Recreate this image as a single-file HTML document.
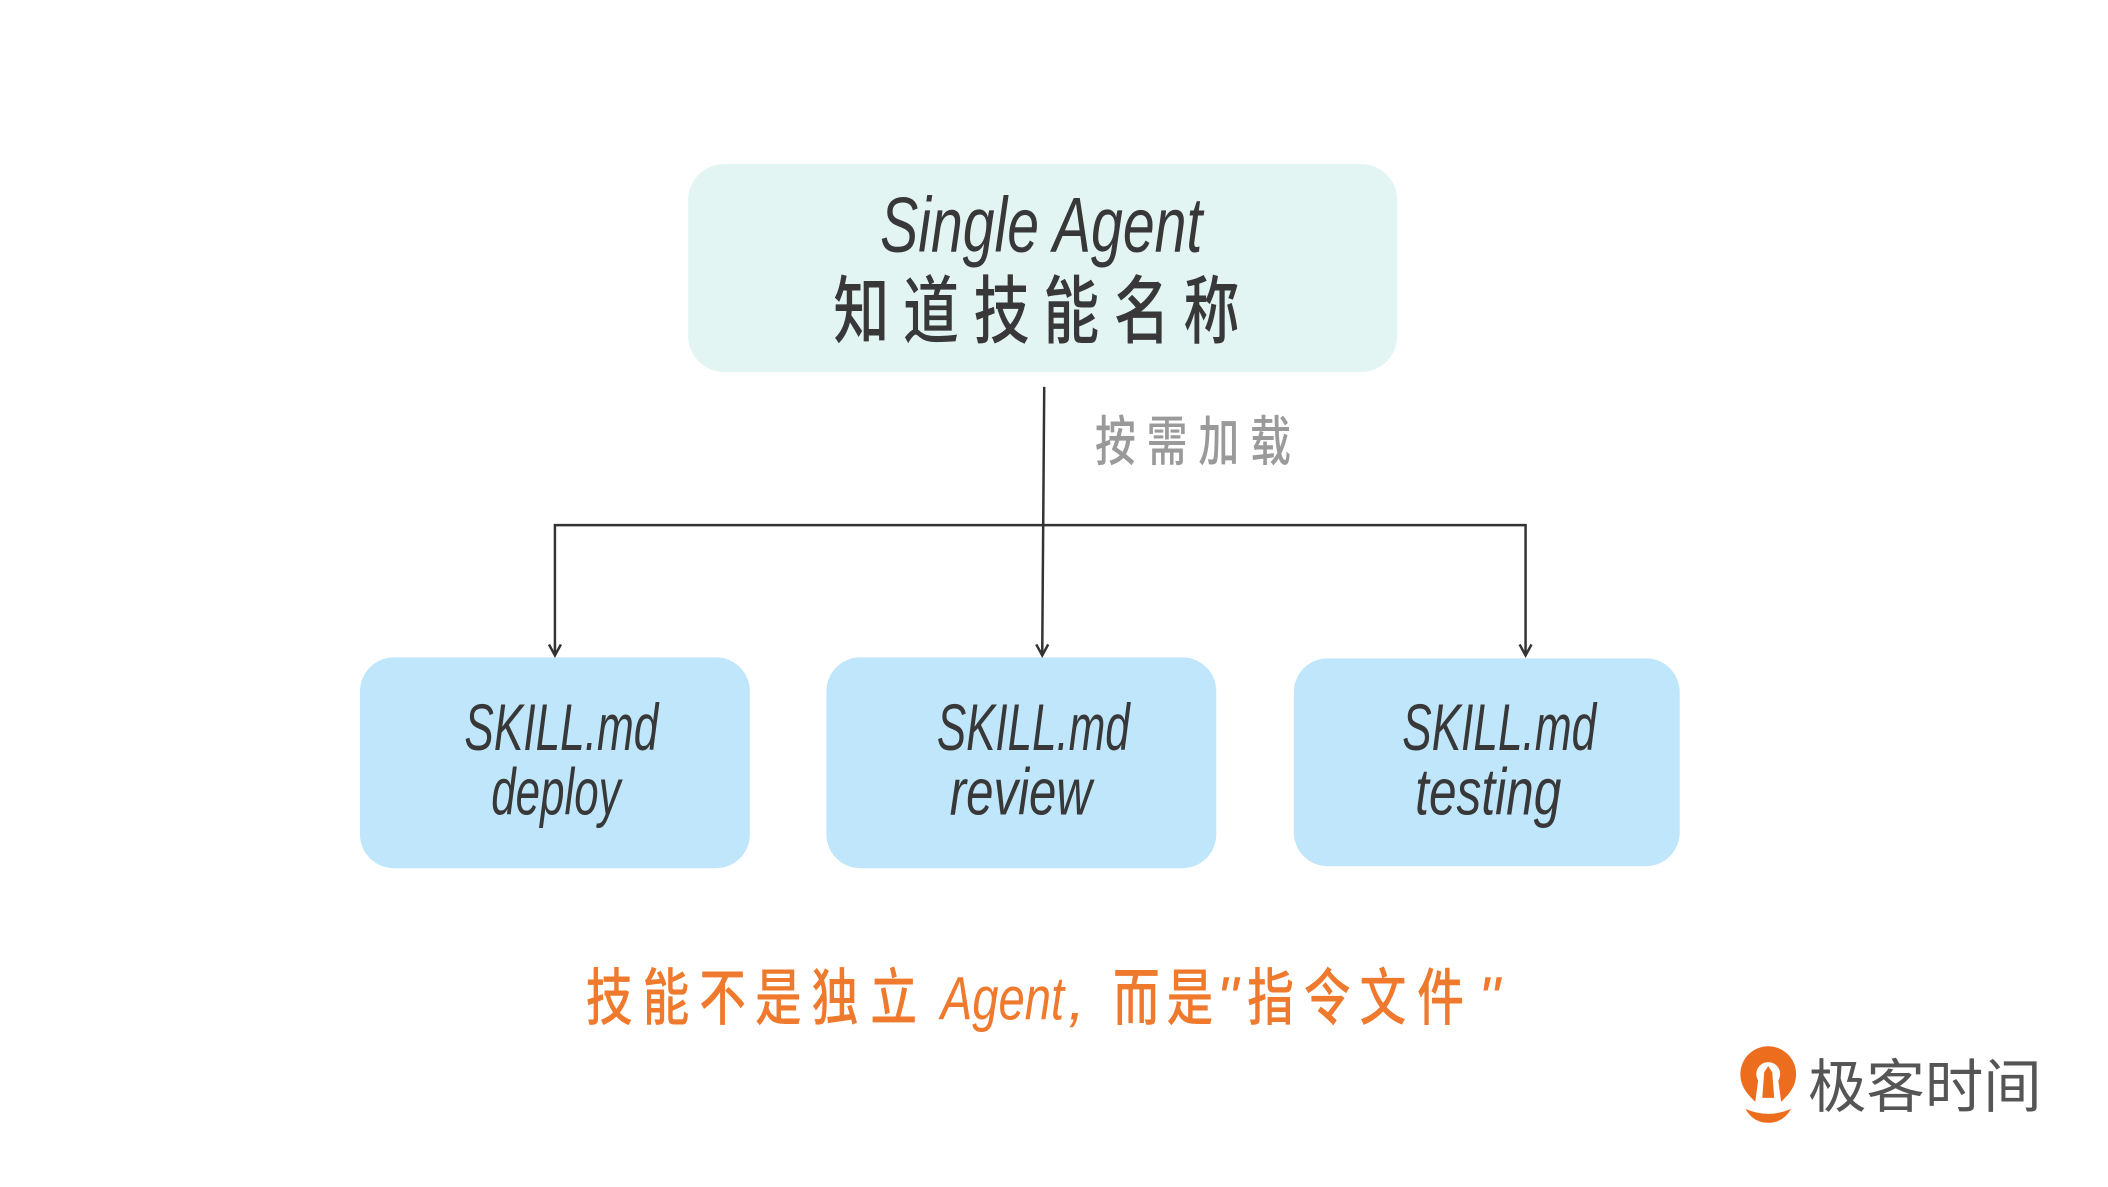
<!DOCTYPE html>
<html><head><meta charset="utf-8"><style>
html,body{margin:0;padding:0;background:#fff;}
svg{display:block}
.c{font-family:"Noto Sans CJK SC",sans-serif;}
</style></head><body>
<svg width="2108" height="1187" viewBox="0 0 2108 1187" xmlns="http://www.w3.org/2000/svg">
<g transform="scale(0.9945)">
<rect x="692" y="165" width="713" height="209" rx="36" fill="#e3f5f3"/>
<rect x="362" y="661" width="392" height="212" rx="34" fill="#bfe6fb"/>
<rect x="831" y="661" width="392" height="212" rx="34" fill="#bfe6fb"/>
<rect x="1301" y="662" width="388" height="209" rx="34" fill="#bfe6fb"/>
<g font-family="Liberation Sans, Noto Sans CJK SC, sans-serif" fill="#383838">
<text x="885" y="253" font-size="78" font-style="italic" textLength="324" lengthAdjust="spacingAndGlyphs">Single Agent</text>
<g class="c" font-size="74" font-weight="500">
<text transform="translate(838,339) scale(0.76,1)">知</text>
<text transform="translate(908,339) scale(0.76,1)">道</text>
<text transform="translate(979,339) scale(0.76,1)">技</text>
<text transform="translate(1049,339) scale(0.76,1)">能</text>
<text transform="translate(1120,339) scale(0.76,1)">名</text>
<text transform="translate(1190,339) scale(0.76,1)">称</text>
</g>
<text x="467" y="754" font-size="66" font-style="italic" textLength="195" lengthAdjust="spacingAndGlyphs">SKILL.md</text>
<text x="494" y="819" font-size="66" font-style="italic" textLength="130" lengthAdjust="spacingAndGlyphs">deploy</text>
<text x="942" y="754" font-size="66" font-style="italic" textLength="194" lengthAdjust="spacingAndGlyphs">SKILL.md</text>
<text x="955" y="819" font-size="66" font-style="italic" textLength="143" lengthAdjust="spacingAndGlyphs">review</text>
<text x="1410" y="754" font-size="66" font-style="italic" textLength="195" lengthAdjust="spacingAndGlyphs">SKILL.md</text>
<text x="1423" y="819" font-size="66" font-style="italic" textLength="147" lengthAdjust="spacingAndGlyphs">testing</text>
<g class="c" font-size="54" fill="#9a9a9a" font-weight="500">
<text transform="translate(1101,463) scale(0.76,1)">按</text>
<text transform="translate(1153,463) scale(0.76,1)">需</text>
<text transform="translate(1205,463) scale(0.76,1)">加</text>
<text transform="translate(1257,463) scale(0.76,1)">载</text>
</g>
<g fill="#ef7a2e" font-size="62">
<g class="c" font-weight="500">
<text transform="translate(589,1025) scale(0.76,1)">技</text>
<text transform="translate(646,1025) scale(0.76,1)">能</text>
<text transform="translate(703,1025) scale(0.76,1)">不</text>
<text transform="translate(759,1025) scale(0.76,1)">是</text>
<text transform="translate(816,1025) scale(0.76,1)">独</text>
<text transform="translate(875,1025) scale(0.76,1)">立</text>
<text transform="translate(1119,1025) scale(0.76,1)">而</text>
<text transform="translate(1173,1025) scale(0.76,1)">是</text>
<text transform="translate(1254,1025) scale(0.76,1)">指</text>
<text transform="translate(1311,1025) scale(0.76,1)">令</text>
<text transform="translate(1367,1025) scale(0.76,1)">文</text>
<text transform="translate(1425,1025) scale(0.76,1)">件</text>
</g>
<text x="946" y="1025" font-style="italic" textLength="124" lengthAdjust="spacingAndGlyphs">Agent</text>
<text x="1074" y="1025" font-style="italic">,</text>
<text x="1223" y="1025" font-style="italic">"</text>
<text x="1486" y="1025" font-style="italic">"</text>
</g>
</g>
<g stroke="#333" stroke-width="2.5" fill="none">
<line x1="1050" y1="389" x2="1048" y2="657"/>
<polyline points="558,657 558,528 1534,528 1534,657"/>
</g>
<g stroke="#333" stroke-width="2.5" fill="none">
<polyline points="552,648 558,659 564,648"/>
<polyline points="1042,648 1048,659 1054,648"/>
<polyline points="1528,648 1534,659 1540,648"/>
</g>
<g>
<path d="M1778 1052 a28 28 0 0 1 28 28 c0 14 -9 22 -15 28 l-4 -30 h-18 l-4 30 c-6 -6 -15 -14 -15 -28 a28 28 0 0 1 28 -28z" fill="#ed6d1f"/>
<circle cx="1778" cy="1080" r="12" fill="#fff"/>
<path d="M1774 1078 l4 -6 l4 6 l2 26 h-12z" fill="#ed6d1f"/>
<path d="M1755 1115 q23 10 46 0 q-8 14 -23 14 q-15 0 -23 -14z" fill="#ed6d1f"/>
<text x="1818" y="1113" font-size="58" font-family="Noto Sans CJK SC, sans-serif" fill="#555" textLength="235" lengthAdjust="spacingAndGlyphs">极客时间</text>
</g>
</g>
</svg>
</body></html>
